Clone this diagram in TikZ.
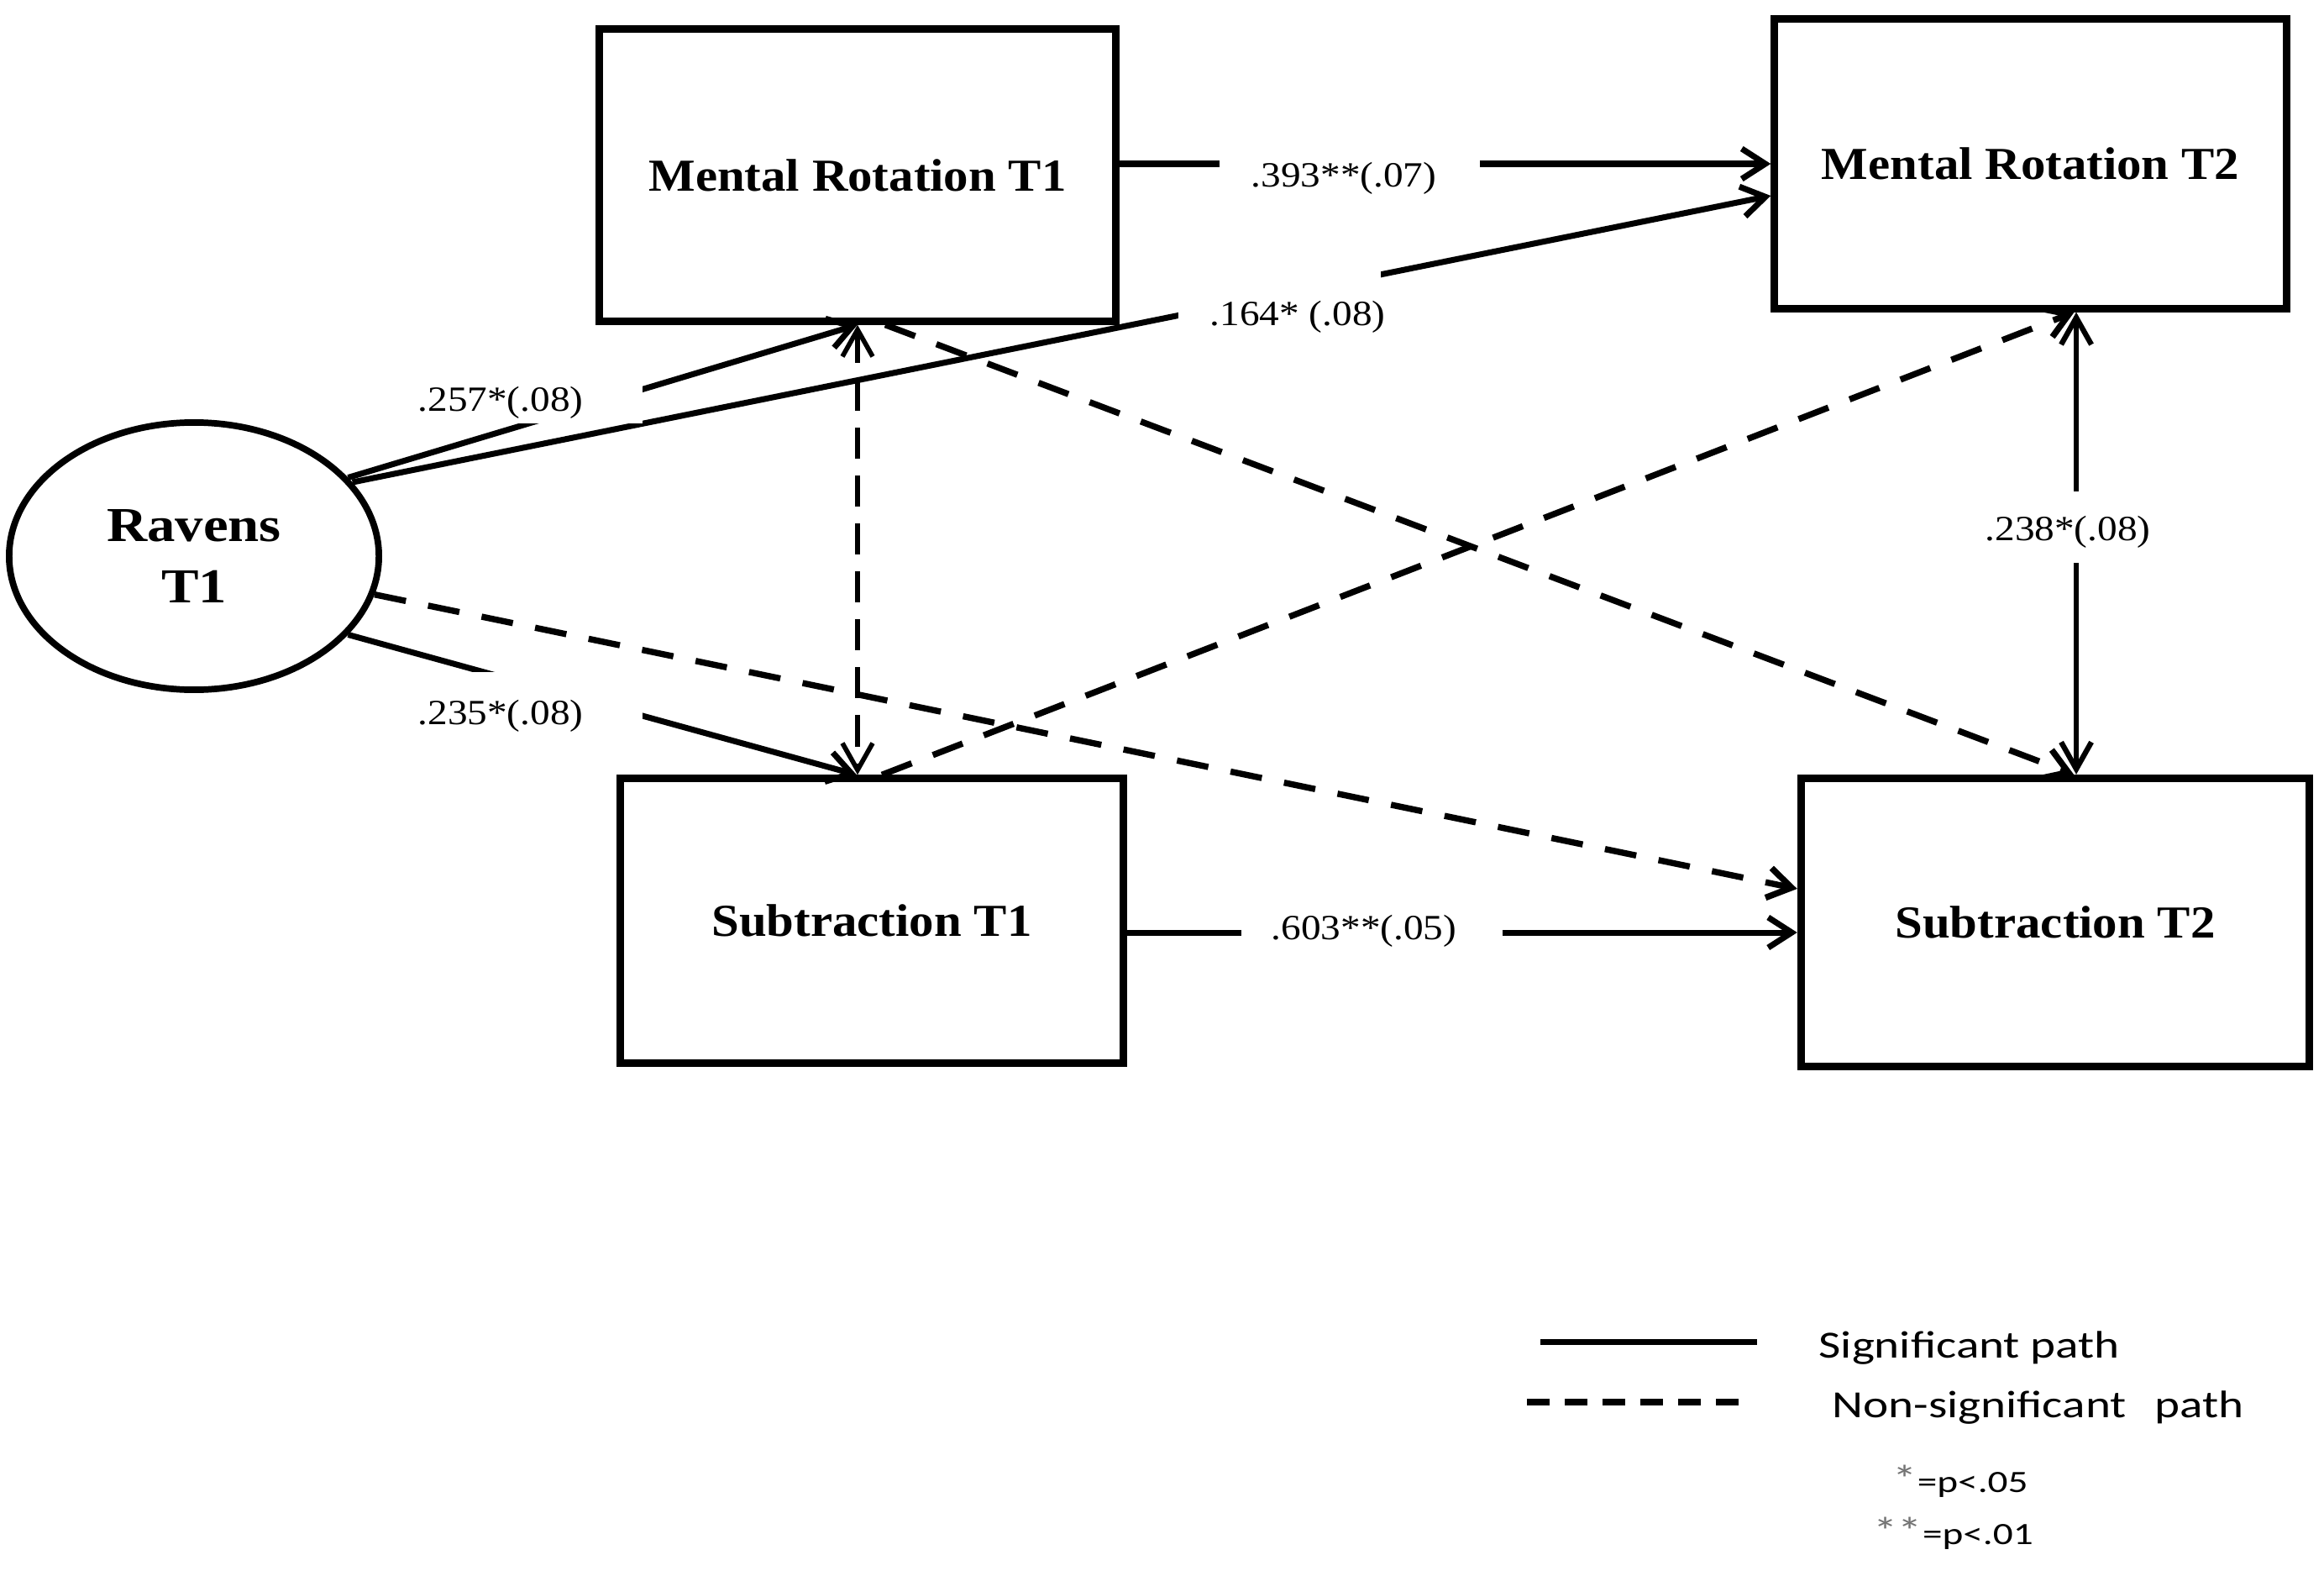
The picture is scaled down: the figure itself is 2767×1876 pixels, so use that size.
\documentclass[tikz,border=0pt]{standalone}
\usepackage{graphicx}
\usepackage{fontspec}
\setmainfont{Liberation Serif}
\newfontfamily\legfont{Carlito}
\usetikzlibrary{arrows.meta,shapes.geometric}
\newcommand{\hs}[2]{\scalebox{#1}[1]{#2}}
\newcommand{\gst}[1]{\textcolor{black!55}{\fontsize{13}{12}\selectfont #1}}
\tikzset{
  boxnode/.style={draw, line width=2.6pt, inner sep=0pt, font=\fontsize{15.5}{18}\selectfont\bfseries},
  sig/.style={line width=2pt, -{Straight Barb[length=0.28cm,width=0.36cm]}},
  nsig/.style={line width=2.1pt, dash pattern=on 0.38cm off 0.27cm, -{Straight Barb[length=0.28cm,width=0.36cm]}},
  vsig/.style={line width=1.8pt, {Straight Barb[length=0.32cm,width=0.36cm]}-{Straight Barb[length=0.32cm,width=0.36cm]}},
  vnsig/.style={line width=1.6pt, dash pattern=on 0.37cm off 0.2cm, {Straight Barb[length=0.32cm,width=0.36cm]}-{Straight Barb[length=0.32cm,width=0.36cm]}},
  mask/.style={fill=white, inner sep=0pt},
  lbl/.style={inner sep=0pt, font=\fontsize{12}{14}\selectfont},
  legtext/.style={inner sep=0pt, anchor=west, font=\legfont\fontsize{13}{15}\selectfont},
  legsmall/.style={inner sep=0pt, anchor=west, font=\legfont\fontsize{10.5}{12}\selectfont}
}
\begin{document}
\begin{tikzpicture}[x=0.01cm, y=-0.01cm]
\useasboundingbox (0,0) rectangle (2767,1876);

% nodes
\node[ellipse, draw, line width=2.2pt, minimum width=4.4cm, minimum height=3.18cm, inner sep=0pt,
      align=center, font=\fontsize{16.5}{21}\selectfont\bfseries] (rav) at (231,662)
      {\hs{1.15}{Ravens}\\\hs{1.15}{T1}};
\node[boxnode, minimum width=6.14cm, minimum height=3.47cm] (mr1) at (1021,208.5) {\hs{1.08}{Mental Rotation T1}};
\node[boxnode, minimum width=6.09cm, minimum height=3.44cm] (mr2) at (2417.5,195) {\hs{1.08}{Mental Rotation T2}};
\node[boxnode, minimum width=5.98cm, minimum height=3.38cm] (sub1) at (1038,1096) {\hs{1.08}{Subtraction T1}};
\node[boxnode, minimum width=6.05cm, minimum height=3.43cm] (sub2) at (2447,1098) {\hs{1.08}{Subtraction T2}};

% connectors
\draw[sig] (mr1.east |- mr2.west) -- (mr2.west);
\draw[sig] ([yshift=-0.14cm]sub1.east) -- ([yshift=-0.14cm]sub1.east -| sub2.west);
\draw[sig] (rav.27) -- (mr1.south);
\draw[sig] (rav.25) -- ([yshift=-0.38cm]mr2.west);
\draw[sig] (rav.-27) -- ([xshift=-0.18cm]sub1.north);
\draw[nsig] (rav.-12) -- ([yshift=0.4cm]sub2.west);
\draw[vnsig] (mr1.south) -- (mr1.south |- sub1.north);
\draw[nsig] ([xshift=0.33cm]mr1.south) -- ([xshift=0.22cm]sub2.north);
\draw[nsig] ([xshift=0.12cm]sub1.north) -- ([xshift=0.52cm]mr2.south);
\draw[vsig] ([xshift=0.545cm]mr2.south) -- ([xshift=0.545cm]mr2.south |- sub2.north);

% label masks
\node[mask, minimum width=3.1cm, minimum height=0.9cm] (k393) at (1607,205) {};
\node[mask, minimum width=2.41cm, minimum height=1.05cm] (k164) at (1523.5,372.5) {};
\node[mask, minimum width=1.85cm, minimum height=0.84cm] (k257) at (672.5,462) {};
\node[mask, minimum width=2.05cm, minimum height=1.0cm] (k235) at (662.5,850) {};
\node[mask, minimum width=0.65cm, minimum height=0.85cm] (k238) at (2472.5,627.5) {};
\node[mask, minimum width=3.11cm, minimum height=0.6cm] (k603) at (1633.5,1110) {};

% labels
\node[lbl] (l393) at (1600,212) {\hs{1.12}{.393**(.07)}};
\node[lbl] (l164) at (1545,377) {\hs{1.12}{.164* (.08)}};
\node[lbl] (l257) at (596,479) {\hs{1.12}{.257*(.08)}};
\node[lbl] (l235) at (596,852) {\hs{1.12}{.235*(.08)}};
\node[lbl] (l238) at (2462,633) {\hs{1.12}{.238*(.08)}};
\node[lbl] (l603) at (1624,1108) {\hs{1.12}{.603**(.05)}};

% legend
\coordinate (ls1) at (1834,1597);
\coordinate (ls2) at (2092,1597);
\coordinate (ld1) at (1818,1669);
\coordinate (ld2) at (2074,1669);
\draw[line width=2pt] (ls1) -- (ls2);
\draw[line width=2.2pt, dash pattern=on 0.27cm off 0.18cm] (ld1) -- (ld2);
\node[legtext] (t1) at (2165,1605) {\hs{1.25}{Significant path}};
\node[legtext] (t2) at (2181,1676) {\hs{1.25}{Non-significant\hspace{0.6em}path}};
\node[legsmall] (t3) at (2253,1763) {\hs{1.28}{\gst{*}=p<.05}};
\node[legsmall] (t4) at (2230,1825) {\hs{1.28}{\gst{**}=p<.01}};
\end{tikzpicture}
\end{document}
